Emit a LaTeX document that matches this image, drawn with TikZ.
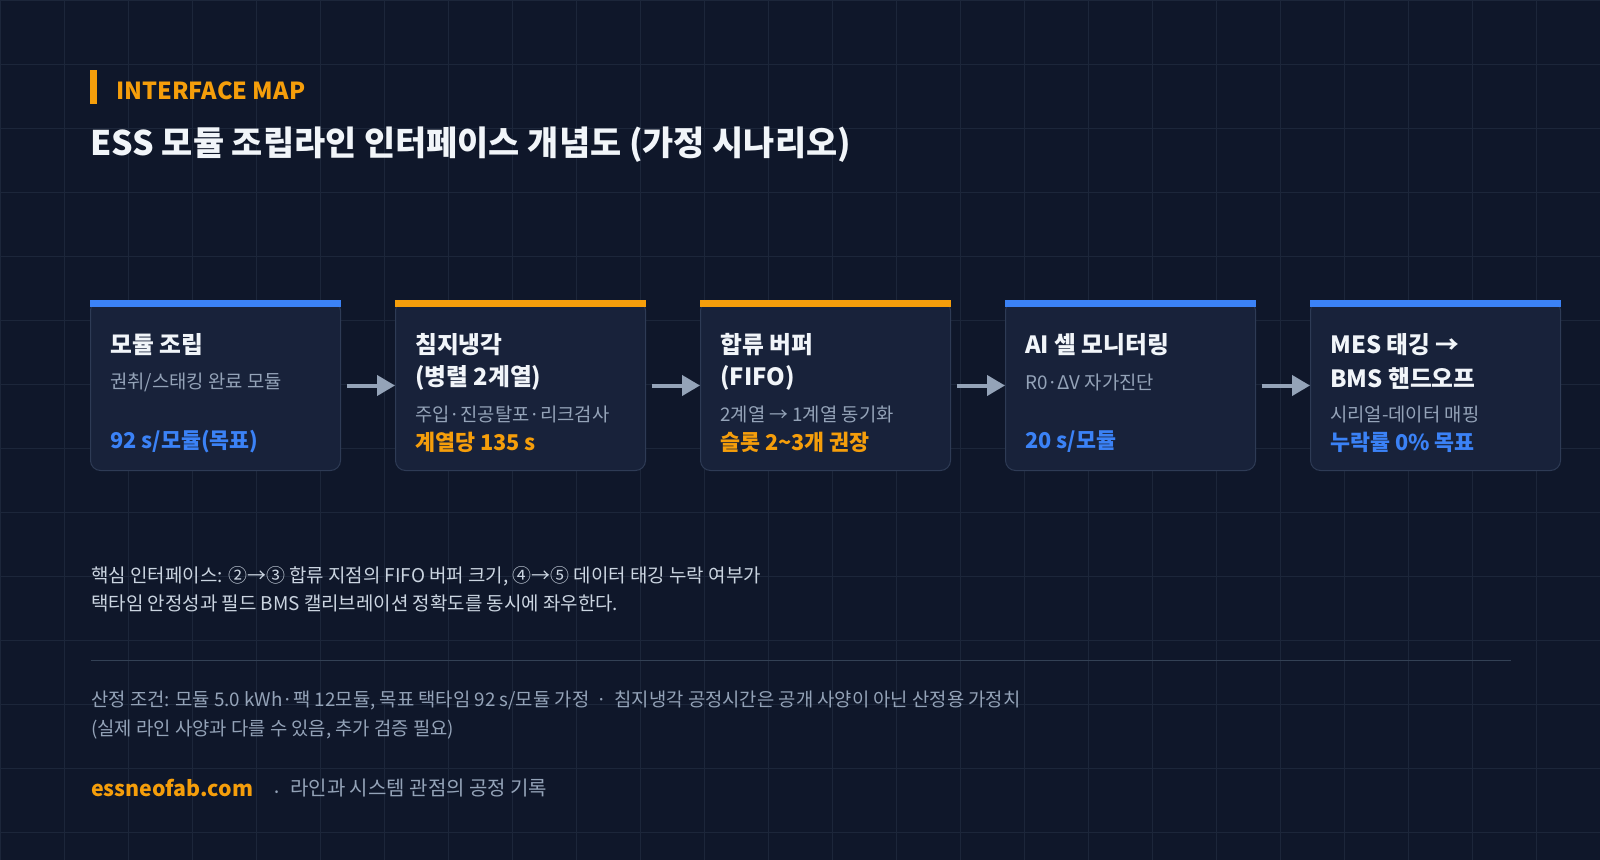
\documentclass[tikz,border=0pt]{standalone}
\usepackage{fontspec}
\setmainfont{Noto Sans CJK KR}
\usetikzlibrary{arrows.meta, positioning, calc}
\definecolor{pagebg}{HTML}{0F172A}
\definecolor{gridcol}{HTML}{1C263A}
\definecolor{cardbg}{HTML}{18223A}
\definecolor{cardline}{HTML}{2E3B55}
\definecolor{accentorange}{HTML}{F59E0B}
\definecolor{accentblue}{HTML}{3B82F6}
\definecolor{headwhite}{HTML}{F1F5F9}
\definecolor{subgray}{HTML}{94A3B8}
\definecolor{notegray}{HTML}{CBD5E1}
\definecolor{sepgray}{HTML}{334155}

\begin{document}
\begin{tikzpicture}[
  x=0.75pt, y=-0.75pt,
  node distance=40.5pt,
  card/.style={rectangle, rounded corners=7.5pt, draw=cardline, fill=cardbg, line width=0.75pt, minimum width=187.5pt, minimum height=127.5pt, inner sep=0pt},
  cardtitle/.style={anchor=west, inner sep=0pt, text=headwhite, font=\bfseries\fontsize{17.8}{21}\selectfont},
  cardsub/.style={anchor=west, inner sep=0pt, text=subgray, font=\fontsize{14.1}{17}\selectfont},
  cardval/.style={anchor=west, inner sep=0pt, font=\bfseries\fontsize{16.3}{19}\selectfont},
  flow/.style={-{Triangle[length=13.5pt, width=15pt]}, line width=3pt, draw=subgray},
  gridline/.style={draw=gridcol, line width=0.75pt}
]
  % background and grid
  \fill[pagebg] (0,0) rectangle (1600,860);
  \useasboundingbox (0,0) rectangle (1600,860);
  \foreach \gx in {0,64,...,1600} \draw[gridline] (\gx,0) -- (\gx,860);
  \foreach \gy in {0,64,...,860} \draw[gridline] (0,\gy) -- (1600,\gy);

  % header
  \fill[accentorange] (90,70) rectangle (97,104);
  \node[anchor=west, inner sep=0pt, text=accentorange, font=\bfseries\fontsize{17.6}{20}\selectfont] (kicker) at (116,91) {INTERFACE MAP};
  \node[anchor=west, inner sep=0pt, text=headwhite, font=\bfseries\fontsize{25.4}{30}\selectfont] (title) at (90,145) {ESS 모듈 조립라인 인터페이스 개념도 (가정 시나리오)};

  % process cards
  \node[card, anchor=north west] (assy) at (90,300) {};
  \node[card, right=of assy] (cool) {};
  \node[card, right=of cool] (buffer) {};
  \node[card, right=of buffer] (monitor) {};
  \node[card, right=of monitor] (handoff) {};

  \fill[accentblue] (assy.north west) rectangle ($(assy.north east)+(0,7)$);
  \fill[accentorange] (cool.north west) rectangle ($(cool.north east)+(0,7)$);
  \fill[accentorange] (buffer.north west) rectangle ($(buffer.north east)+(0,7)$);
  \fill[accentblue] (monitor.north west) rectangle ($(monitor.north east)+(0,7)$);
  \fill[accentblue] (handoff.north west) rectangle ($(handoff.north east)+(0,7)$);

  \draw[flow] ([xshift=4.5pt]assy.east) -- (cool.west);
  \draw[flow] ([xshift=4.5pt]cool.east) -- (buffer.west);
  \draw[flow] ([xshift=4.5pt]buffer.east) -- (monitor.west);
  \draw[flow] ([xshift=4.5pt]monitor.east) -- (handoff.west);

  % card texts
  \node[cardtitle] (assyT) at ($(assy.north west)+(20,45)$) {모듈 조립};
  \node[cardsub] (assyS) at ($(assy.north west)+(20,82)$) {권취/스태킹 완료 모듈};
  \node[cardval, text=accentblue] (assyV) at ($(assy.north west)+(20,142)$) {92 s/모듈(목표)};

  \node[cardtitle] (coolT) at ($(cool.north west)+(20,45)$) {침지냉각};
  \node[cardtitle] (coolT2) at ($(cool.north west)+(20,78)$) {(병렬 2계열)};
  \node[cardsub] (coolS) at ($(cool.north west)+(20,114)$) {주입·진공탈포·리크검사};
  \node[cardval, text=accentorange] (coolV) at ($(cool.north west)+(20,142)$) {계열당 135 s};

  \node[cardtitle] (bufferT) at ($(buffer.north west)+(20,45)$) {합류 버퍼};
  \node[cardtitle] (bufferT2) at ($(buffer.north west)+(20,78)$) {(FIFO)};
  \node[cardsub] (bufferS) at ($(buffer.north west)+(20,114)$) {2계열 → 1계열 동기화};
  \node[cardval, text=accentorange] (bufferV) at ($(buffer.north west)+(20,142)$) {슬롯 2\textasciitilde 3개 권장};

  \node[cardtitle] (monitorT) at ($(monitor.north west)+(20,45)$) {AI 셀 모니터링};
  \node[cardsub] (monitorS) at ($(monitor.north west)+(20,82)$) {R0·ΔV 자가진단};
  \node[cardval, text=accentblue] (monitorV) at ($(monitor.north west)+(20,142)$) {20 s/모듈};

  \node[cardtitle] (handoffT) at ($(handoff.north west)+(20,45)$) {MES 태깅 →};
  \node[cardtitle] (handoffT2) at ($(handoff.north west)+(20,78)$) {BMS 핸드오프};
  \node[cardsub] (handoffS) at ($(handoff.north west)+(20,114)$) {시리얼-데이터 매핑};
  \node[cardval, text=accentblue] (handoffV) at ($(handoff.north west)+(20,142)$) {누락률 0\% 목표};

  % notes
  \node[anchor=west, inner sep=0pt, align=left, text=notegray, font=\fontsize{14.2}{20.6}\selectfont] (keynote) at (91,589)
    {핵심 인터페이스: ②→③ 합류 지점의 FIFO 버퍼 크기, ④→⑤ 데이터 태깅 누락 여부가\\택타임 안정성과 필드 BMS 캘리브레이션 정확도를 동시에 좌우한다.};
  \draw[sepgray, line width=0.75pt] (91,660) -- (1511,660);
  \node[anchor=west, inner sep=0pt, align=left, text=subgray, font=\fontsize{14.1}{21.75}\selectfont] (basis) at (91,715.5)
    {산정 조건: 모듈 5.0 kWh·팩 12모듈, 목표 택타임 92 s/모듈 가정 \,·\, 침지냉각 공정시간은 공개 사양이 아닌 산정용 가정치\\(실제 라인 사양과 다를 수 있음, 추가 검증 필요)};

  % footer
  \node[anchor=west, inner sep=0pt, text=accentorange, font=\bfseries\fontsize{16}{19}\selectfont] (site) at (91,788) {essneofab.com};
  \node[anchor=west, inner sep=0pt, text=subgray, font=\fontsize{15}{18}\selectfont] (dot) at (271,795) {·};
  \node[anchor=west, inner sep=0pt, text=subgray, font=\fontsize{15}{18}\selectfont] (tagline) at (290,788) {라인과 시스템 관점의 공정 기록};
\end{tikzpicture}
\end{document}
